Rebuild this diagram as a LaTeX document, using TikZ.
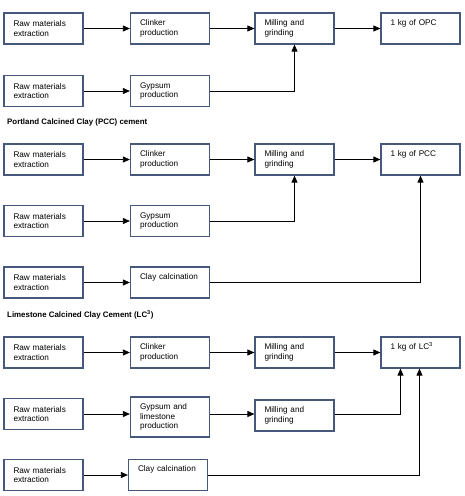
\documentclass[tikz,border=0pt]{standalone}
\usepackage{fontspec}
\setmainfont{Liberation Sans}
\usetikzlibrary{arrows.meta}
\definecolor{boxline}{RGB}{70,88,124}
\begin{document}
\begin{tikzpicture}[x=1pt,y=-1pt,
  box/.style={draw=boxline,line width=1.2pt,rectangle,minimum width=79pt,minimum height=31pt,
    text width=60pt,inner xsep=9.5pt,inner ysep=2pt,align=left,
    font=\fontsize{8.2}{9.4}\selectfont,anchor=center},
  tall/.style={minimum height=40pt},
  flow/.style={draw=black,line width=0.8pt,-{Triangle[length=7pt,width=6pt]}},
  ttl/.style={font=\fontsize{7.9}{9}\selectfont\bfseries,anchor=west,inner sep=0pt}]
\useasboundingbox (0,0) rectangle (464,496);
% ---------- OPC ----------
\node[box] (a1) at (43.5,28.5) {Raw materials\\extraction};
\node[box] (a2) at (170,28.5) {Clinker\\production};
\node[box] (a3) at (294.5,28.5) {Milling and\\grinding};
\node[box] (a4) at (420.5,28.5) {1 kg of OPC\\\strut};
\node[box] (b1) at (43.5,91) {Raw materials\\extraction};
\node[box] (b2) at (170,91) {Gypsum\\production};
\draw[flow] (a1) -- (a2);
\draw[flow] (a2) -- (a3);
\draw[flow] (a3) -- (a4);
\draw[flow] (b1) -- (b2);
\draw[flow] (b2.east) -| (a3.south);
% ---------- PCC ----------
\node[ttl] (t1) at (7,122) {Portland Calcined Clay (PCC) cement};
\node[box] (c1) at (43.5,159.5) {Raw materials\\extraction};
\node[box] (c2) at (170,159.5) {Clinker\\production};
\node[box] (c3) at (294.5,159.5) {Milling and\\grinding};
\node[box] (c4) at (420.5,159.5) {1 kg of PCC\\\strut};
\node[box] (d1) at (43.5,221) {Raw materials\\extraction};
\node[box] (d2) at (170,221) {Gypsum\\production};
\node[box] (e1) at (43.5,282.5) {Raw materials\\extraction};
\node[box] (e2) at (170,282.5) {Clay calcination\\\strut};
\draw[flow] (c1) -- (c2);
\draw[flow] (c2) -- (c3);
\draw[flow] (c3) -- (c4);
\draw[flow] (d1) -- (d2);
\draw[flow] (d2.east) -| (c3.south);
\draw[flow] (e1) -- (e2);
\draw[flow] (e2.east) -| (c4.south);
% ---------- LC3 ----------
\node[ttl] (t2) at (7,315) {Limestone Calcined Clay Cement (LC\textsuperscript{3})};
\node[box] (f1) at (43.5,352.5) {Raw materials\\extraction};
\node[box] (f2) at (170,352.5) {Clinker\\production};
\node[box] (f3) at (294.5,352.5) {Milling and\\grinding};
\node[box] (f4) at (420.5,352.5) {1 kg of LC\textsuperscript{3}\\\strut};
\node[box] (g1) at (43.5,414) {Raw materials\\extraction};
\node[box,tall] (g2) at (170,417) {Gypsum and\\limestone\\production};
\node[box] (g3) at (294.5,415.5) {Milling and\\grinding};
\node[box] (h1) at (43.5,475) {Raw materials\\extraction};
\node[box] (h2) at (168,475) {Clay calcination\\\strut};
\coordinate (f4a) at ([xshift=-20pt]f4.south);
\coordinate (f4b) at ([xshift=-1pt]f4.south);
\draw[flow] (f1) -- (f2);
\draw[flow] (f2) -- (f3);
\draw[flow] (f3) -- (f4);
\draw[flow] (g1.east) -- (g2.west |- g1.east);
\draw[flow] (g2.east |- g1.east) -- (g3.west |- g1.east);
\draw[flow] (g3.east |- g1.east) -| (f4a);
\draw[flow] (h1) -- (h2);
\draw[flow] (h2.east) -| (f4b);
\end{tikzpicture}
\end{document}
